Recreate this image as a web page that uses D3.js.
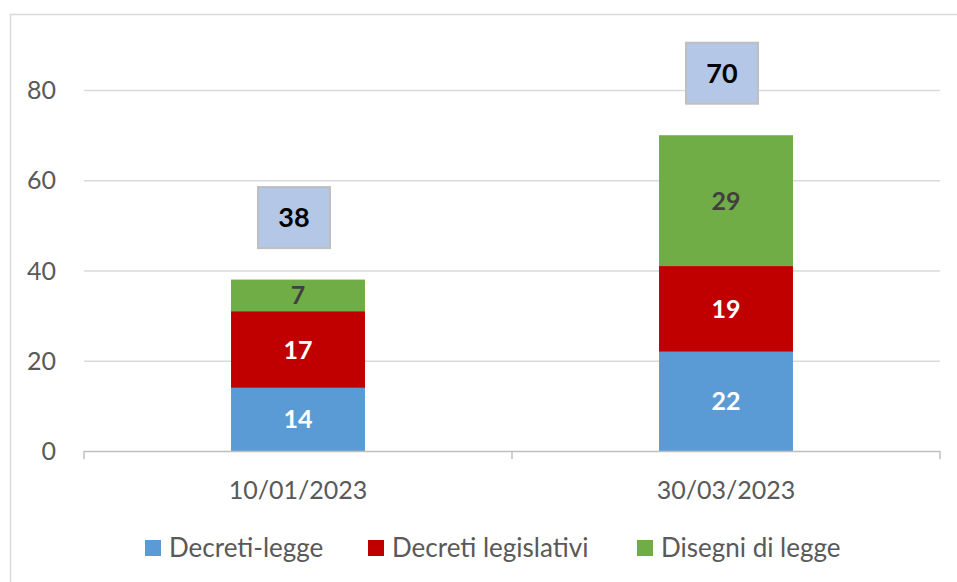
<!DOCTYPE html>
<meta charset="utf-8">
<script src="https://d3js.org/d3.v7.min.js"></script>
<style>
body { margin: 0; background: #fff; }
text { font-family: Lato, "Open Sans", sans-serif; }
</style>
<div id="my_dataviz"></div>
<script>

// data
var dates = ["10/01/2023", "30/03/2023"];
var seriesNames = ["Decreti-legge", "Decreti legislativi", "Disegni di legge"];
var decretiLegge = [14, 22];
var decretiLegislativi = [17, 19];
var disegniDiLegge = [7, 29];
var yTicks = [0, 20, 40, 60, 80];

var colors = ["#5b9bd5", "#c00000", "#70ad47"];
var labelColors = ["#ffffff", "#ffffff", "#404040"];

var W = 957, H = 582;
var margin = {top: 45, right: 17, bottom: 131, left: 84},
    width = W - margin.left - margin.right,
    height = H - margin.top - margin.bottom;

var svg = d3.select("#my_dataviz")
  .append("svg")
    .attr("width", W)
    .attr("height", H);

// chart frame
svg.append("rect")
  .attr("x", 10.5).attr("y", 14.5)
  .attr("width", 980).attr("height", 600)
  .style("fill", "none")
  .style("stroke", "#d9d9d9")
  .style("stroke-width", 1.5);

var g = svg.append("g")
  .attr("transform", "translate(" + margin.left + "," + margin.top + ")");

// build stacked table
var table = dates.map(function(d, i) {
  return {date: d, "Decreti-legge": decretiLegge[i], "Decreti legislativi": decretiLegislativi[i], "Disegni di legge": disegniDiLegge[i]};
});
var stacked = d3.stack().keys(seriesNames)(table);

var x = d3.scaleBand()
  .domain(dates)
  .range([0, width])
  .paddingInner(0.687)
  .paddingOuter(0.3435);

var xOuter = d3.scaleBand().domain(dates).range([0, width]);

var y = d3.scaleLinear()
  .domain([0, 90])
  .range([height, 0]);

// gridlines
g.append("g")
  .selectAll("line")
  .data(yTicks.slice(1))
  .enter()
  .append("line")
    .attr("x1", 0).attr("x2", width)
    .attr("y1", function(d){ return y(d) + 0.5; })
    .attr("y2", function(d){ return y(d) + 0.5; })
    .style("stroke", "#d9d9d9")
    .style("stroke-width", 1.5);

// y tick labels
g.append("g")
  .selectAll("text")
  .data(yTicks)
  .enter()
  .append("text")
    .attr("x", -28)
    .attr("y", function(d){ return y(d); })
    .attr("dy", "0.36em")
    .attr("text-anchor", "end")
    .style("font-size", "25px")
    .style("fill", "#595959")
    .text(function(d){ return d; });

// bars
var layers = g.append("g")
  .selectAll("g")
  .data(stacked)
  .enter()
  .append("g")
    .style("fill", function(d, i){ return colors[i]; });

layers.selectAll("rect")
  .data(function(d){ return d; })
  .enter()
  .append("rect")
    .attr("x", function(d){ return x(d.data.date); })
    .attr("y", function(d){ return y(d[1]); })
    .attr("height", function(d){ return y(d[0]) - y(d[1]); })
    .attr("width", x.bandwidth());

// segment labels
stacked.forEach(function(s, i) {
  g.append("g")
    .selectAll("text")
    .data(s)
    .enter()
    .append("text")
      .attr("x", function(d){ return x(d.data.date) + x.bandwidth() / 2; })
      .attr("y", function(d){ return (y(d[0]) + y(d[1])) / 2; })
      .attr("dy", "0.36em")
      .attr("text-anchor", "middle")
      .style("font-size", "25px")
      .style("font-weight", "bold")
      .style("fill", labelColors[i])
      .text(function(d){ return d[1] - d[0]; });
});

// x axis line and ticks
var axis = g.append("g").attr("transform", "translate(0," + height + ")");
axis.append("line")
  .attr("x1", 0).attr("x2", width)
  .attr("y1", 0.5).attr("y2", 0.5)
  .style("stroke", "#bfbfbf").style("stroke-width", 1.5);
axis.selectAll("line.tick")
  .data([0].concat(dates.map(function(d){ return xOuter(d) + xOuter.bandwidth(); })))
  .enter()
  .append("line")
    .attr("class", "tick")
    .attr("x1", function(d){ return d; }).attr("x2", function(d){ return d; })
    .attr("y1", 0).attr("y2", 8)
    .style("stroke", "#bfbfbf").style("stroke-width", 1.5);
axis.selectAll("text")
  .data(dates)
  .enter()
  .append("text")
    .attr("x", function(d){ return x(d) + x.bandwidth() / 2; })
    .attr("y", 48)
    .attr("text-anchor", "middle")
    .style("font-size", "25px")
    .style("fill", "#595959")
    .text(function(d){ return d; });

// total boxes
var totals = table.map(function(d, i){ return {date: d.date, total: decretiLegge[i] + decretiLegislativi[i] + disegniDiLegge[i]}; });
var boxW = 72, boxH = 61;
var tot = g.append("g")
  .selectAll("g")
  .data(totals)
  .enter()
  .append("g")
    .attr("transform", function(d){
      return "translate(" + (x(d.date) + x.bandwidth() / 2 - 4) + "," + (y(d.total) - 62) + ")";
    });
tot.append("rect")
  .attr("x", -boxW / 2).attr("y", -boxH / 2)
  .attr("width", boxW).attr("height", boxH)
  .style("fill", "#b4c7e7")
  .style("stroke", "#bfbfbf")
  .style("stroke-width", 2);
tot.append("text")
  .attr("dy", "0.36em")
  .attr("text-anchor", "middle")
  .style("font-size", "27px")
  .style("font-weight", "bold")
  .style("fill", "#000")
  .text(function(d){ return d.total; });

// legend
var legendX = [145, 368, 637];
var legend = svg.append("g")
  .selectAll("g")
  .data(seriesNames)
  .enter()
  .append("g")
    .attr("transform", function(d, i){ return "translate(" + legendX[i] + ",548)"; });
legend.append("rect")
  .attr("x", 0).attr("y", -8)
  .attr("width", 16).attr("height", 16)
  .style("fill", function(d, i){ return colors[i]; });
legend.append("text")
  .attr("x", 24)
  .attr("dy", "0.36em")
  .style("font-size", "26px")
  .style("fill", "#595959")
  .text(function(d){ return d; });

</script>
